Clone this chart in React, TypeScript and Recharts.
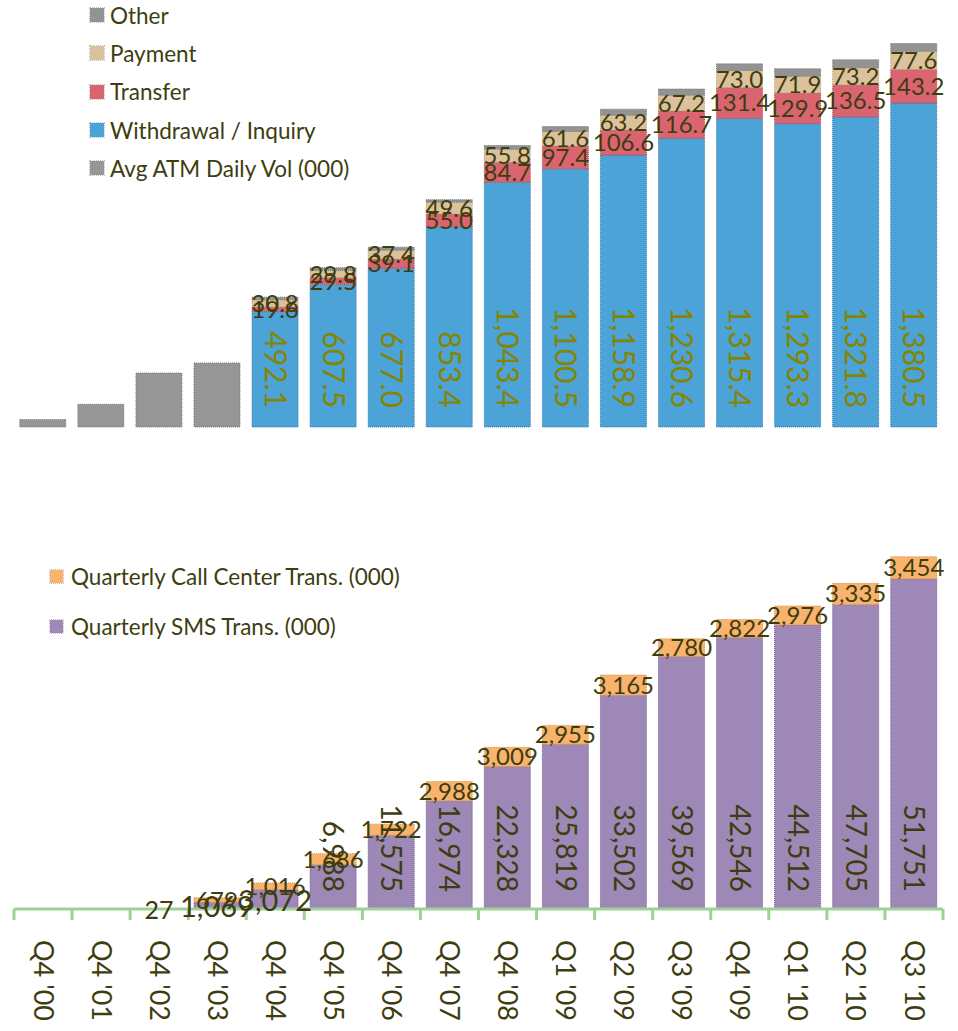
import React from "react";
import { BarChart, Bar, XAxis, YAxis, Legend, LabelList } from "recharts";

const quarters = [
  "Q4 '00", "Q4 '01", "Q4 '02", "Q4 '03", "Q4 '04", "Q4 '05", "Q4 '06", "Q4 '07",
  "Q4 '08", "Q1 '09", "Q2 '09", "Q3 '09", "Q4 '09", "Q1 '10", "Q2 '10", "Q3 '10",
];

// ATM (top panel)
const avgDaily = [32, 97, 230, 273, null, null, null, null, null, null, null, null, null, null, null, null];
const withdrawal = [null, null, null, null, 492.1, 607.5, 677.0, 853.4, 1043.4, 1100.5, 1158.9, 1230.6, 1315.4, 1293.3, 1321.8, 1380.5];
const transfer = [null, null, null, null, 19.6, 29.5, 39.1, 55.0, 84.7, 97.4, 106.6, 116.7, 131.4, 129.9, 136.5, 143.2];
const payment = [null, null, null, null, 30.8, 29.8, 37.4, 49.6, 55.8, 61.6, 63.2, 67.2, 73.0, 71.9, 73.2, 77.6];
const other = [null, null, null, null, 11, 12, 13, 11, 16, 21, 26, 26, 28, 32, 34, 33];

// SMS / call center (bottom panel)
const sms = [null, null, 27, 1069, 3072, 6988, 11575, 16974, 22328, 25819, 33502, 39569, 42546, 44512, 47705, 51751];
const callCenter = [null, null, null, 679, 1016, 1686, 1722, 2988, 3009, 2955, 3165, 2780, 2822, 2976, 3335, 3454];

const atmLegendOrder = ["Other", "Payment", "Transfer", "Withdrawal / Inquiry", "Avg ATM Daily Vol (000)"];
const mobileLegendOrder = ["Quarterly Call Center Trans. (000)", "Quarterly SMS Trans. (000)"];

const atmData = quarters.map((q, i) => ({
  q,
  avg: avgDaily[i],
  withdrawal: withdrawal[i],
  transfer: transfer[i],
  payment: payment[i],
  other: other[i],
}));

const mobileData = quarters.map((q, i) => ({
  q,
  sms: sms[i],
  cc: callCenter[i],
}));

const W = 958;
const LEFT = 14;
const RIGHT = 15;
const BAND = (W - LEFT - RIGHT) / quarters.length;
const FONT = "Lato, 'Open Sans', sans-serif";
const DARK = "#3d3d0f";
const OLIVE = "#858500";
const GREEN = "#9fd095";

const fmt1 = (v: number) =>
  Number(v).toLocaleString("en-US", { minimumFractionDigits: 1, maximumFractionDigits: 1 });
const fmt0 = (v: number) => Number(v).toLocaleString("en-US");

function box(props: any) {
  const vb = props.viewBox && props.viewBox.width != null ? props.viewBox : props;
  return { x: +vb.x, y: +vb.y, width: +vb.width, height: +vb.height };
}

// vertical label sitting on the bar base, reading top to bottom
function BaseLabel(props: any) {
  const { value, color, fontSize, gap, fmt } = props;
  if (value == null) return null;
  const { x, y, width, height } = box(props);
  const cx = x + width / 2;
  return (
    <text
      transform={`translate(${cx},${y + height - gap}) rotate(90)`}
      textAnchor="end"
      dy="0.35em"
      fontSize={fontSize}
      fontFamily={FONT}
      fill={color}
    >
      {fmt(value)}
    </text>
  );
}

function SmsLabel(props: any) {
  const { value } = props;
  if (value == null) return null;
  if (value > 5000) {
    return <BaseLabel {...props} color={DARK} fontSize={28} gap={17} fmt={fmt0} />;
  }
  const { x, y, width, height } = box(props);
  return (
    <text
      x={x + width / 2}
      y={y + height / 2}
      textAnchor="middle"
      dominantBaseline="central"
      fontSize={value < 100 ? 25 : 29}
      fontFamily={FONT}
      fill={DARK}
    >
      {fmt0(value)}
    </text>
  );
}

function QuarterTick({ x, y, payload }: any) {
  const half = BAND / 2;
  const last = payload.index === quarters.length - 1;
  return (
    <g>
      <line x1={x - half} x2={x - half} y1={y} y2={y + 11} stroke={GREEN} strokeWidth={3} />
      {last && <line x1={x + half} x2={x + half} y1={y} y2={y + 11} stroke={GREEN} strokeWidth={3} />}
      <text
        transform={`translate(${x},${y + 31}) rotate(90)`}
        textAnchor="start"
        dy="0.35em"
        fontSize={27}
        fontFamily={FONT}
        fill={DARK}
      >
        {payload.value}
      </text>
    </g>
  );
}

function StackLegend({ payload, order, rowH, box: sq, gap }: any) {
  const items = order
    .map((name: string) => (payload ?? []).find((it: any) => it.value === name))
    .filter(Boolean);
  return (
    <div style={{ fontFamily: FONT, fontSize: 22.5, color: DARK }}>
      {items.map((it: any) => (
        <div key={it.value} style={{ height: rowH, display: "flex", alignItems: "center", whiteSpace: "nowrap" }}>
          <span
            style={{
              width: sq,
              height: sq,
              background: it.color,
              marginRight: gap,
              display: "inline-block",
              outline: "1px dotted rgba(0,0,0,0.25)",
            }}
          />
          {it.value}
        </div>
      ))}
    </div>
  );
}

const dotted = { strokeWidth: 1, strokeDasharray: "1 1" };

export default function App() {
  return (
    <div style={{ position: "absolute", left: 0, top: 0, width: W, height: 1031, background: "#fff" }}>
      <BarChart
        width={W}
        height={440}
        data={atmData}
        margin={{ top: 0, right: RIGHT, left: LEFT, bottom: 13 }}
        barCategoryGap="10%"
      >
        <XAxis dataKey="q" hide />
        <YAxis hide domain={[0, 1820]} />
        <Legend
          layout="vertical"
          align="center"
          verticalAlign="middle"
          wrapperStyle={{ top: -4, left: 90 }}
          content={(p: any) => <StackLegend payload={p.payload} order={atmLegendOrder} rowH={38.3} box={14} gap={6} />}
        />
        <Bar dataKey="avg" name="Avg ATM Daily Vol (000)" stackId="a" fill="#969696" stroke="#7a7a7a" {...dotted} isAnimationActive={false} />
        <Bar dataKey="withdrawal" name="Withdrawal / Inquiry" stackId="a" fill="#4ba3d7" stroke="#3579a6" {...dotted} isAnimationActive={false}>
          <LabelList
            dataKey="withdrawal"
            content={(p: any) => <BaseLabel {...p} color={OLIVE} fontSize={30} gap={19} fmt={fmt1} />}
          />
        </Bar>
        <Bar dataKey="transfer" name="Transfer" stackId="a" fill="#da6571" stroke="#b04b57" {...dotted} isAnimationActive={false}>
          <LabelList dataKey="transfer" position="center" formatter={(v: any) => (v == null ? "" : fmt1(v))} fill={DARK} fontSize={24} fontFamily={FONT} />
        </Bar>
        <Bar dataKey="payment" name="Payment" stackId="a" fill="#dcc29c" stroke="#b79e78" {...dotted} isAnimationActive={false}>
          <LabelList dataKey="payment" position="center" formatter={(v: any) => (v == null ? "" : fmt1(v))} fill={DARK} fontSize={24} fontFamily={FONT} />
        </Bar>
        <Bar dataKey="other" name="Other" stackId="a" fill="#939393" stroke="#777777" {...dotted} isAnimationActive={false} />
      </BarChart>

      <BarChart
        width={W}
        height={591}
        data={mobileData}
        margin={{ top: 0, right: RIGHT, left: LEFT, bottom: 0 }}
        barCategoryGap="10%"
      >
        <XAxis
          dataKey="q"
          height={122}
          interval={0}
          tickLine={false}
          tickSize={0}
          tickMargin={0}
          axisLine={{ stroke: GREEN, strokeWidth: 3 }}
          tick={<QuarterTick />}
        />
        <YAxis hide domain={[0, 73500]} />
        <Legend
          layout="vertical"
          align="center"
          verticalAlign="middle"
          wrapperStyle={{ top: 111, left: 50 }}
          content={(p: any) => <StackLegend payload={p.payload} order={mobileLegendOrder} rowH={50} box={13} gap={8} />}
        />
        <Bar dataKey="sms" name="Quarterly SMS Trans. (000)" stackId="b" fill="#9d88b8" stroke="#6f5c8a" {...dotted} isAnimationActive={false}>
          <LabelList dataKey="sms" content={(p: any) => <SmsLabel {...p} />} />
        </Bar>
        <Bar dataKey="cc" name="Quarterly Call Center Trans. (000)" stackId="b" fill="#f9b36d" stroke="#d9904a" {...dotted} isAnimationActive={false}>
          <LabelList dataKey="cc" position="center" formatter={(v: any) => (v == null ? "" : fmt0(v))} fill={DARK} fontSize={24} fontFamily={FONT} />
        </Bar>
      </BarChart>
    </div>
  );
}
